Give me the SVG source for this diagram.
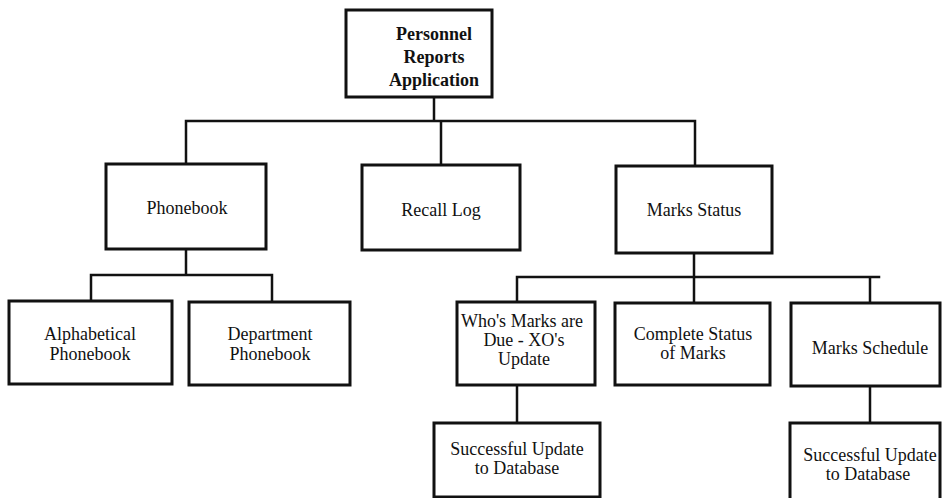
<svg xmlns="http://www.w3.org/2000/svg" width="942" height="498" viewBox="0 0 942 498">
<style>
  .box { fill: #fff; stroke: #111; stroke-width: 3; }
  .ln { stroke: #111; stroke-width: 2.5; fill: none; stroke-linecap: square; }
  .t { font-size: 18px; fill: #111; text-anchor: middle; }
  .b { font-weight: bold; }
</style>
<rect width="942" height="498" fill="#fff"/>
<g id="connectors">
  <path class="ln" d="M434 97 V121 M186 121 H695 M186 121 V164 M441 121 V165 M695 121 V166"/>
  <path class="ln" d="M186 249 V275 M91 275 H272 M91 275 V301 M272 275 V302"/>
  <path class="ln" d="M694 253 V277 M517 277 H879 M517 277 V302 M694 277 V303 M870 277 V303"/>
  <path class="ln" d="M517 385 V423 M870 386 V423"/>
</g>
<g font-family="Liberation Serif, DejaVu Serif, serif">
<g id="personnel">
  <rect class="box" x="346" y="10" width="146" height="87"/>
  <text class="t b" x="434" y="40">Personnel</text>
  <text class="t b" x="434" y="63">Reports</text>
  <text class="t b" x="434" y="86">Application</text>
</g>
<g id="phonebook">
  <rect class="box" x="106" y="164" width="160" height="85"/>
  <text class="t" x="187" y="214">Phonebook</text>
</g>
<g id="recall">
  <rect class="box" x="362" y="165" width="158" height="85"/>
  <text class="t" x="441" y="216">Recall Log</text>
</g>
<g id="marks">
  <rect class="box" x="616" y="166" width="156" height="87"/>
  <text class="t" x="694" y="216">Marks Status</text>
</g>
<g id="alpha">
  <rect class="box" x="9" y="301" width="163" height="83"/>
  <text class="t" x="90" y="340">Alphabetical</text>
  <text class="t" x="90" y="360">Phonebook</text>
</g>
<g id="dept">
  <rect class="box" x="189" y="302" width="161" height="83"/>
  <text class="t" x="270" y="340">Department</text>
  <text class="t" x="270" y="360">Phonebook</text>
</g>
<g id="whos">
  <rect class="box" x="457" y="302" width="138" height="83"/>
  <text class="t" x="522" y="327">Who's Marks are</text>
  <text class="t" x="524" y="346">Due - XO's</text>
  <text class="t" x="524" y="365">Update</text>
</g>
<g id="complete">
  <rect class="box" x="615" y="303" width="155" height="82"/>
  <text class="t" x="693" y="340">Complete Status</text>
  <text class="t" x="693" y="359">of Marks</text>
</g>
<g id="schedule">
  <rect class="box" x="791" y="303" width="149" height="83"/>
  <text class="t" x="870" y="354">Marks Schedule</text>
</g>
<g id="success1">
  <rect class="box" x="434" y="423" width="166" height="74"/>
  <text class="t" x="517" y="455">Successful Update</text>
  <text class="t" x="517" y="474">to Database</text>
</g>
<g id="success2">
  <rect class="box" x="790" y="423" width="150" height="80"/>
  <text class="t" x="870" y="461">Successful Update</text>
  <text class="t" x="868" y="480">to Database</text>
</g>
</g>
</svg>
